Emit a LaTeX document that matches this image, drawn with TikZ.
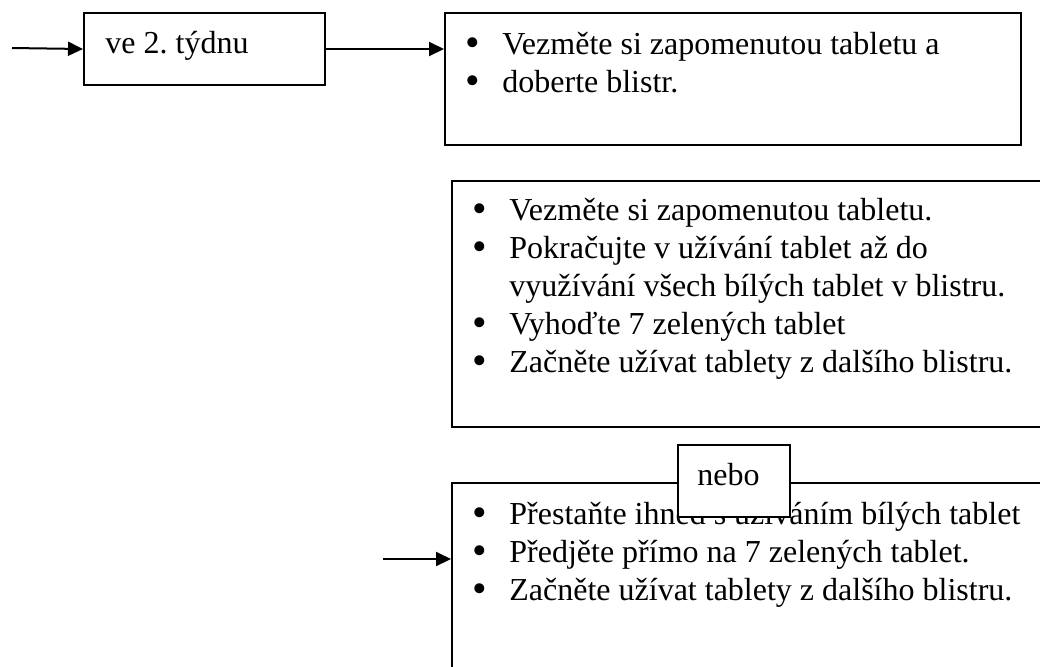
\documentclass[tikz,border=0pt]{standalone}
\usepackage{fontspec}
\setmainfont{Liberation Serif}
\usepackage{graphicx}
\usetikzlibrary{arrows.meta}

\newlength{\bind}
\setlength{\bind}{18.5pt}
\newcommand{\blt}{\raisebox{-0.08em}{\scalebox{1.3}{\textbullet}}}
\newcommand{\bitem}[1]{\par\noindent\hangindent=\bind\hangafter=1\makebox[\bind][l]{\blt}#1}
\newcommand{\blist}[1]{\parbox[t]{300pt}{\raggedright\frenchspacing\fontsize{16}{19}\selectfont #1}}

\begin{document}
\begin{tikzpicture}[x=0.5pt, y=-0.5pt,
  box/.style={rectangle, draw=black, line width=1pt, inner sep=0pt, anchor=north west},
  txt/.style={inner sep=0pt, anchor=base west, font=\fontsize{16}{19}\selectfont},
  arr/.style={line width=1pt, -{Triangle[length=7.5pt, width=7pt]}}]
\useasboundingbox (0,0) rectangle (1040,666);
\clip (0,0) rectangle (1040,666);

% week box and first instructions
\node[box, minimum width=120.5pt, minimum height=36pt] (week) at (83,12) {};
\node[txt] (weekText) at (105,53) {ve 2.\ týdnu};

\node[box, minimum width=288pt, minimum height=66pt] (take) at (444,12) {};
\node[txt] (takeText) at (465,54) {\blist{%
  \bitem{Vezměte si zapomenutou tabletu a}%
  \bitem{doberte blistr.}}};

% first option
\node[box, minimum width=304.5pt, minimum height=123pt] (cont) at (451,180) {};
\node[txt] (contText) at (472,220) {\blist{%
  \bitem{Vezměte si zapomenutou tabletu.}%
  \bitem{Pokračujte v užívání tablet až do\newline využívání všech bílých tablet v blistru.}%
  \bitem{Vyhoďte 7 zelených tablet}%
  \bitem{Začněte užívat tablety z dalšího blistru.}}};

% second option
\node[box, minimum width=304.5pt, minimum height=115pt] (stop) at (451,482) {};
\node[txt] (stopText) at (472,524) {\blist{%
  \bitem{Přestaňte ihned s užíváním bílých tablet}%
  \bitem{Předjěte přímo na 7 zelených tablet.}%
  \bitem{Začněte užívat tablety z dalšího blistru.}}};

\node[box, fill=white, minimum width=56pt, minimum height=36pt] (or) at (677,444) {};
\node[txt] (orText) at (697,485) {nebo};

\coordinate (inWeek) at (12,48);
\coordinate (inStop) at (383,559);
\draw[arr] (inWeek) -- (week.west);
\draw[arr] (week.east) -- (week.east -| take.west);
\draw[arr] (inStop) -- (inStop -| stop.west);
\end{tikzpicture}
\end{document}
